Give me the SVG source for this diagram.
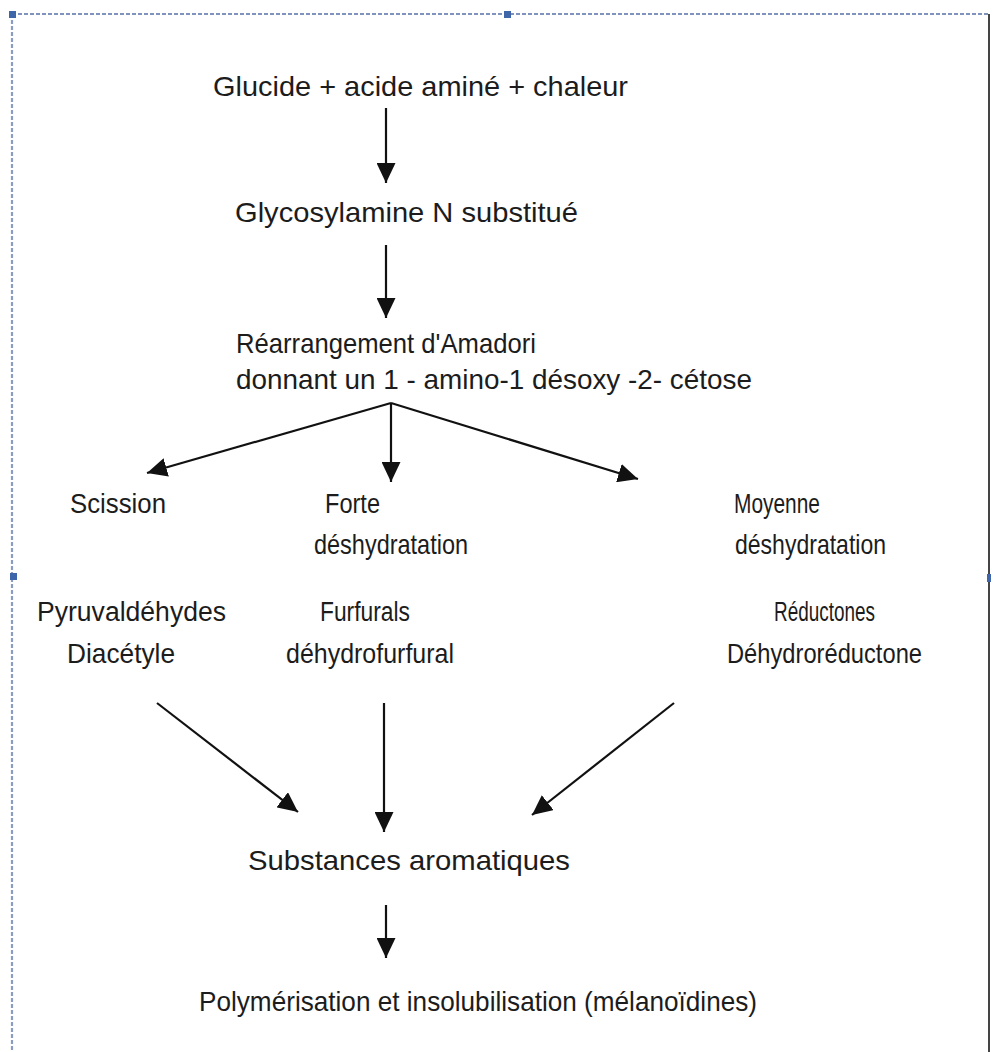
<svg xmlns="http://www.w3.org/2000/svg" width="993" height="1052" viewBox="0 0 993 1052">
<defs>
<style>
.t{font-family:"Liberation Sans",Arial,sans-serif;font-size:28px;fill:#1c1c1c}
.n{font-family:"Liberation Sans",Arial,sans-serif;font-size:27px;fill:#1c1c1c}
.c{stroke:#111;stroke-width:2.2;fill:none}
.h{fill:#3f66a8}
</style>
<marker id="ab" viewBox="0 0 10 10" refX="10" refY="5" markerWidth="20" markerHeight="19" markerUnits="userSpaceOnUse" orient="auto" preserveAspectRatio="none">
<path d="M0,0 L10,5 L0,10 Z" fill="#111"/>
</marker>
</defs>
<rect width="993" height="1052" fill="#fff"/>
<g id="frame">
<line x1="12" y1="14" x2="989" y2="14" stroke="#7f93bd" stroke-width="2.2" stroke-dasharray="4,2"/>
<line x1="12" y1="14" x2="12" y2="1052" stroke="#8a9cc2" stroke-width="2.2" stroke-dasharray="4,2"/>
<line x1="989" y1="14" x2="989" y2="1052" stroke="#444" stroke-width="2"/>
<rect class="h" x="9" y="11" width="7" height="7"/>
<rect class="h" x="504" y="11" width="7" height="7"/>
<rect class="h" x="10" y="573" width="7" height="7"/>
<rect class="h" x="987" y="574" width="4" height="8"/>
</g>
<g id="connectors">
<line class="c" x1="386" y1="108" x2="386" y2="183" marker-end="url(#ab)"/>
<line class="c" x1="386" y1="245" x2="386" y2="318" marker-end="url(#ab)"/>
<line class="c" x1="391" y1="403" x2="147" y2="473" marker-end="url(#ab)"/>
<line class="c" x1="391" y1="403" x2="391" y2="482" marker-end="url(#ab)"/>
<line class="c" x1="391" y1="403" x2="638" y2="479" marker-end="url(#ab)"/>
<line class="c" x1="157" y1="703" x2="298" y2="812" marker-end="url(#ab)"/>
<line class="c" x1="384" y1="703" x2="384" y2="832" marker-end="url(#ab)"/>
<line class="c" x1="674" y1="703" x2="532" y2="815" marker-end="url(#ab)"/>
<line class="c" x1="386" y1="905" x2="386" y2="958" marker-end="url(#ab)"/>
</g>
<g id="n1"><text class="t" x="213" y="96" textLength="415" lengthAdjust="spacingAndGlyphs">Glucide + acide aminé + chaleur</text></g>
<g id="n2"><text class="t" x="235" y="222" textLength="343" lengthAdjust="spacingAndGlyphs">Glycosylamine N substitué</text></g>
<g id="n3">
<text class="t" x="236" y="353" textLength="300" lengthAdjust="spacingAndGlyphs">Réarrangement d'Amadori</text>
<text class="t" x="236" y="389" textLength="516" lengthAdjust="spacingAndGlyphs">donnant un 1 - amino-1 désoxy -2- cétose</text>
</g>
<g id="n4"><text class="n" x="70" y="513" textLength="96" lengthAdjust="spacingAndGlyphs">Scission</text></g>
<g id="n5">
<text class="n" x="325" y="513" textLength="55" lengthAdjust="spacingAndGlyphs">Forte</text>
<text class="t" x="314" y="554" textLength="154" lengthAdjust="spacingAndGlyphs">déshydratation</text>
</g>
<g id="n6">
<text class="n" x="734" y="513" textLength="86" lengthAdjust="spacingAndGlyphs">Moyenne</text>
<text class="t" x="735" y="554" textLength="151" lengthAdjust="spacingAndGlyphs">déshydratation</text>
</g>
<g id="n7">
<text class="n" x="37" y="621" textLength="189" lengthAdjust="spacingAndGlyphs">Pyruvaldéhydes</text>
<text class="t" x="67" y="663" textLength="108" lengthAdjust="spacingAndGlyphs">Diacétyle</text>
</g>
<g id="n8">
<text class="n" x="320" y="621" textLength="90" lengthAdjust="spacingAndGlyphs">Furfurals</text>
<text class="t" x="286" y="663" textLength="168" lengthAdjust="spacingAndGlyphs">déhydrofurfural</text>
</g>
<g id="n9">
<text class="n" x="774" y="621" textLength="101" lengthAdjust="spacingAndGlyphs">Réductones</text>
<text class="t" x="727" y="663" textLength="195" lengthAdjust="spacingAndGlyphs">Déhydroréductone</text>
</g>
<g id="n10"><text class="t" x="248" y="870" textLength="322" lengthAdjust="spacingAndGlyphs">Substances aromatiques</text></g>
<g id="n11"><text class="t" x="199" y="1011" textLength="558" lengthAdjust="spacingAndGlyphs">Polymérisation et insolubilisation (mélanoïdines)</text></g>
</svg>
